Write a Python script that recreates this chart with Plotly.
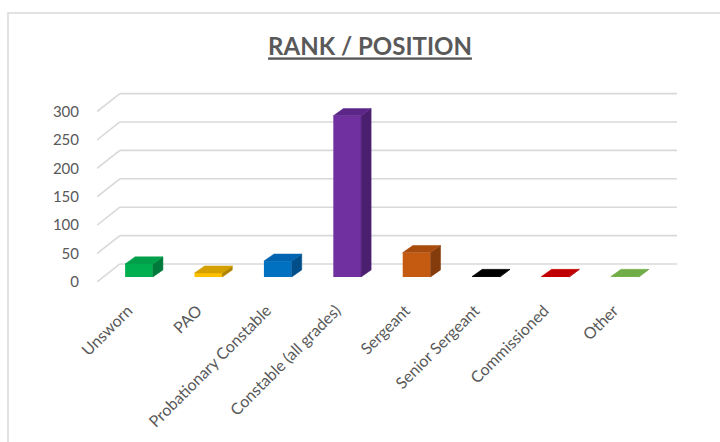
import plotly.graph_objects as go

# ---- data ----
categories = ["Unsworn", "PAO", "Probationary Constable", "Constable (all grades)",
              "Sergeant", "Senior Sergeant", "Commissioned", "Other"]
values = [23, 7, 28, 284, 43, 1, 1, 1]
y_ticks = [0, 50, 100, 150, 200, 250, 300]

# ---- styles ----
front_colors = ["#00B050", "#FFC000", "#0070C0", "#7030A0", "#C55A11", "#1a1a1a", "#D00000", "#8CC85A"]
top_colors = ["#00A04A", "#D4A000", "#0064B0", "#5C2688", "#A84C0E", "#000000", "#C00000", "#70AD47"]
side_colors = ["#007A3A", "#B08400", "#004F8A", "#4B1F70", "#843C0C", "#000000", "#900000", "#548235"]

FONT = "Lato"
GREY = "#595959"
GRID = "#D9D9D9"

# geometry (axis units)
BAR_W = 0.4          # front face width
BASE = 8.8           # bar floor relative to front edge
DDX, DDY = 0.145, 12.5   # bar depth projection
WX, WY = 0.33, 31.7      # full wall depth projection
X0, X1 = -0.605, 7.752
LABEL_SHIFT = -0.16  # category label offset (left of bar centre)

fig = go.Figure()

# back wall gridlines + side wall diagonals (drawn below the bars)
shapes = []
for v in y_ticks:
    shapes.append(dict(type="line", xref="x", yref="y", x0=X0, y0=v, x1=X0 + WX, y1=v + WY,
                       line=dict(color=GRID, width=1.6), layer="below"))
    shapes.append(dict(type="line", xref="x", yref="y", x0=X0 + WX, y0=v + WY, x1=X1, y1=v + WY,
                       line=dict(color=GRID, width=1.6), layer="below"))

# chart-area border
shapes.append(dict(type="rect", xref="paper", yref="paper",
                   x0=(8 - 97) / 580, x1=(735 - 97) / 580,
                   y0=(282 - 460) / 192, y1=(282 - 13) / 192,
                   line=dict(color=GRID, width=1.5), fillcolor="rgba(0,0,0,0)", layer="below"))

idx = list(range(len(categories)))

# front faces
fig.add_trace(go.Bar(x=idx, y=values, base=BASE, width=BAR_W,
                     marker=dict(color=front_colors, line=dict(width=0)),
                     showlegend=False, hovertext=categories))

for i, v in zip(idx, values):
    xl, xr = i - BAR_W / 2, i + BAR_W / 2
    top = BASE + v
    # side face
    fig.add_trace(go.Scatter(
        x=[xr, xr + DDX, xr + DDX, xr, xr],
        y=[BASE, BASE + DDY, top + DDY, top, BASE],
        fill="toself", fillcolor=side_colors[i], mode="lines",
        line=dict(width=0.5, color=side_colors[i]), hoverinfo="skip", showlegend=False))
    # top face
    fig.add_trace(go.Scatter(
        x=[xl, xr, xr + DDX, xl + DDX, xl],
        y=[top, top, top + DDY, top + DDY, top],
        fill="toself", fillcolor=top_colors[i], mode="lines",
        line=dict(width=0.5, color=top_colors[i]), hoverinfo="skip", showlegend=False))

fig.update_layout(
    width=720, height=442,
    margin=dict(l=97, r=43, t=90, b=160),
    paper_bgcolor="white", plot_bgcolor="rgba(0,0,0,0)",
    title=dict(text="<b>RANK / POSITION</b>", x=370 / 720, xref="container", xanchor="center",
               y=1 - 47 / 442, yref="container", yanchor="middle",
               font=dict(family=FONT, size=24, color=GREY, lineposition="under")),
    xaxis=dict(range=[X0, X1], tickmode="array", tickvals=[i + LABEL_SHIFT for i in idx],
               ticktext=categories, tickangle=-45, showgrid=False, zeroline=False, showline=False,
               ticks="outside", ticklen=12, tickcolor="rgba(0,0,0,0)",
               tickfont=dict(family=FONT, size=16, color=GREY), fixedrange=True),
    yaxis=dict(range=[0, 338], tickmode="array", tickvals=y_ticks,
               showgrid=False, zeroline=False, showline=False,
               ticks="outside", ticklen=14, tickcolor="rgba(0,0,0,0)",
               tickfont=dict(family=FONT, size=15, color=GREY), fixedrange=True),
    shapes=shapes,
)

fig.write_html("out.html", config={"displayModeBar": False},
               post_script="document.body.style.margin='0';")
